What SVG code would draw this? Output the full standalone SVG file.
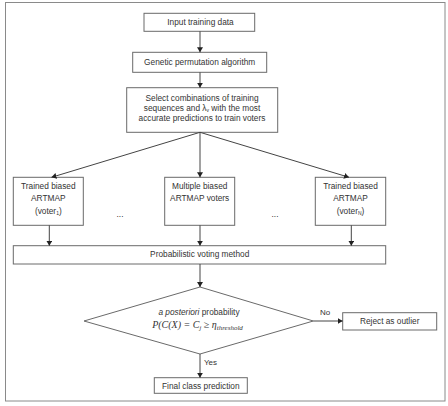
<svg xmlns="http://www.w3.org/2000/svg" width="448" height="406" viewBox="0 0 448 406">
<style>
.box{fill:#fff;stroke:#6a6a6a;stroke-width:1}
.t{font-family:"Liberation Sans",Arial,sans-serif;font-size:8.3px;fill:#333;text-anchor:middle}
.m{font-family:"Liberation Serif","Times New Roman",serif;font-style:italic;font-size:10px;fill:#333;text-anchor:middle}
.c{stroke:#444;stroke-width:1;fill:none;marker-end:url(#ah)}
.l{font-family:"Liberation Sans",Arial,sans-serif;font-size:8px;fill:#333}
</style>
<defs>
<marker id="ah" markerWidth="6" markerHeight="6" refX="5" refY="3" orient="auto" markerUnits="userSpaceOnUse">
<path d="M0,0 L5,3 L0,6 z" fill="#222"/>
</marker>
</defs>
<rect x="5.5" y="2.5" width="439.5" height="398.5" fill="#fff" stroke="#8a8a8a" stroke-width="1"/>
<g id="input"><rect class="box" x="144" y="13.3" width="110.7" height="18"/><text class="t" x="200.5" y="25.3" font-size="8.8">Input training data</text></g>
<g id="genetic"><rect class="box" x="132.7" y="52.3" width="134" height="20"/><text class="t" x="199.7" y="65.3">Genetic permutation algorithm</text></g>
<g id="select"><rect class="box" x="126.7" y="87.7" width="151" height="44.6"/>
<text class="t" x="202" y="100.5">Select combinations of training</text>
<text class="t" x="202" y="110.5">sequences and λ<tspan font-size="5" dy="1.5">v</tspan><tspan dy="-1.5"> with the most</tspan></text>
<text class="t" x="202" y="120.5">accurate predictions to train voters</text></g>
<g id="voter1"><rect class="box" x="13.3" y="177.3" width="70" height="48"/>
<text class="t" x="48.3" y="189">Trained biased</text><text class="t" x="48.3" y="200.7">ARTMAP</text>
<text class="t" x="48.3" y="213.5">(voter<tspan font-size="5" dy="1.5">1</tspan><tspan dy="-1.5">)</tspan></text></g>
<g id="voters"><rect class="box" x="164.7" y="177.3" width="70" height="48"/>
<text class="t" x="199.7" y="189">Multiple biased</text><text class="t" x="199.7" y="200.7">ARTMAP voters</text></g>
<g id="voterN"><rect class="box" x="315.3" y="177.3" width="70.4" height="48"/>
<text class="t" x="350.5" y="189">Trained biased</text><text class="t" x="350.5" y="200.7">ARTMAP</text>
<text class="t" x="350.5" y="213.5">(voter<tspan font-size="5" dy="1.5">N</tspan><tspan dy="-1.5">)</tspan></text></g>
<g id="dots"><text class="t" x="120" y="217" font-size="7.5">...</text><text class="t" x="275" y="217" font-size="7.5">...</text></g>
<g id="voting"><rect class="box" x="13.3" y="245.7" width="372.4" height="18.3"/><text class="t" x="199.7" y="257.3">Probabilistic voting method</text></g>
<g id="decision"><path class="box" d="M200,287 L313.3,321 L200,354 L84,321 Z"/>
<text class="t" x="199" y="314.5"><tspan font-style="italic">a posteriori</tspan> probability</text>
<text class="m" x="197.5" y="327.5">P(C(X) =  C<tspan font-size="6.5" dy="2">j</tspan><tspan dy="-2"> ≥ η</tspan><tspan font-size="7" dy="2">threshold</tspan></text></g>
<g id="reject"><rect class="box" x="342.7" y="312.7" width="94" height="17.3"/><text class="t" x="389.7" y="324.3">Reject as outlier</text></g>
<g id="final"><rect class="box" x="154.3" y="377.7" width="93" height="15.6"/><text class="t" x="200.8" y="388.5">Final class prediction</text></g>
<g id="connectors">
<line class="c" x1="200" y1="31.3" x2="200" y2="52.3"/>
<line class="c" x1="200" y1="72.3" x2="200" y2="87.7"/>
<line class="c" x1="200" y1="132.3" x2="51.5" y2="177.3"/>
<line class="c" x1="200" y1="132.3" x2="200" y2="177.3"/>
<line class="c" x1="200" y1="132.3" x2="349" y2="177.3"/>
<line class="c" x1="49.3" y1="225.3" x2="49.3" y2="245.7"/>
<line class="c" x1="200" y1="225.3" x2="200" y2="245.7"/>
<line class="c" x1="351.3" y1="225.3" x2="351.3" y2="245.7"/>
<line class="c" x1="200" y1="264" x2="200" y2="287"/>
<line class="c" x1="313.3" y1="321" x2="342.7" y2="321"/>
<line class="c" x1="200" y1="354" x2="200" y2="377.7"/>
<text class="l" x="320" y="315">No</text>
<text class="l" x="204" y="364.5">Yes</text>
</g>
</svg>
